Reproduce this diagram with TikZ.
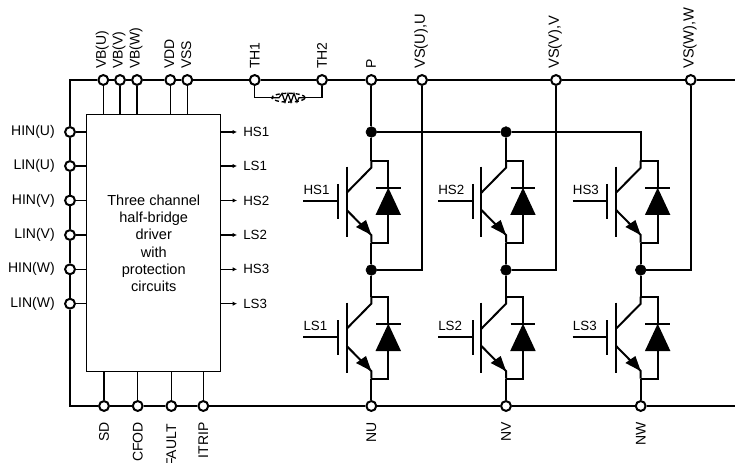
\documentclass[tikz,border=0pt]{standalone}
\usepackage{fontspec}
\setmainfont{Liberation Sans}
\usetikzlibrary{arrows.meta, shapes.geometric}

\tikzset{
  pin/.style={circle,draw=black,fill=white,line width=1.5pt,inner sep=0pt,minimum size=7.4pt},
  joint/.style={circle,draw=black,fill=black,inner sep=0pt,minimum size=8pt},
  pinlabel/.style={rotate=90,inner sep=0pt},
  widelabel/.style={rotate=90,inner sep=0pt,font=\fontsize{11}{13}\selectfont},
  inlabel/.style={anchor=east,inner sep=0pt},
  outlabel/.style={anchor=west,inner sep=4.5pt,font=\fontsize{10}{12}\selectfont},
  bus/.style={line width=1.7pt},
  wire/.style={line width=1.5pt},
  signal/.style={line width=0.8pt},
}

% one IGBT with its diode, (0,0) is where the collector wire meets the diode wire
\newcommand{\igbt}[4]{
  \begin{scope}[shift={(#2,#3)}]
    \coordinate (#1c) at (0,0);
    \coordinate (#1e) at (0,82);
    \draw[wire,line join=miter] (#1c) -- (0,7) -- (-24.6,32);
    \draw[wire] (-24.6,49.3) -- (0,74.3) -- (#1e);
    \draw[wire] (-24.6,6) -- (-24.6,76);
    \draw[wire] (-33.3,23.3) -- (-33.3,58.3);
    \draw[wire] (-68,40.6) -- (-33.3,40.6);
    \draw[wire] (#1c) -- (17,0) -- (17,27);
    \draw[wire] (#1e) -- (17,82) -- (17,54.3);
    \draw[wire] (4.7,27) -- (29.4,27);
    \fill[black] (17,27) -- (4.2,54.3) -- (29.7,54.3) -- cycle;
    \fill[black] (0,74.3) -- (-15.3,66.3) -- (-5.3,59.3) -- cycle;
    \node[anchor=west,inner sep=0pt,font=\fontsize{10}{12}\selectfont] (#1lbl) at (-68,29) {#4};
  \end{scope}
}

\begin{document}
\begin{tikzpicture}[x=0.75pt,y=-0.75pt,font=\fontsize{10.5}{13}\selectfont]
\useasboundingbox (0,0) rectangle (735,463);

\coordinate (tl) at (70,80);
\coordinate (bl) at (70,406);
\coordinate (tr) at (735,80);
\coordinate (br) at (735,406);

\node[draw=black,line width=0.9pt,inner sep=0pt,minimum width=100.5pt,minimum height=192.8pt,align=center,font=\fontsize{10.9}{13}\selectfont] (driver) at (153.75,243.25)
  {Three channel\\half-bridge\\driver\\with\\protection\\circuits};

% top pins
\node[pin] (vbu) at (103.3,80) {};
\node[pin] (vbv) at (120,80) {};
\node[pin] (vbw) at (137,80) {};
\node[pin] (vdd) at (170.3,80) {};
\node[pin] (vss) at (187.3,80) {};
\node[pin] (th1) at (254.7,80) {};
\node[pin] (th2) at (322,80) {};
\node[pin] (p)   at (371.3,80) {};
\node[pin] (vsu) at (422,80) {};
\node[pin] (vsv) at (556,80) {};
\node[pin] (vsw) at (690.7,80) {};

% left pins
\node[pin] (hinu) at (70,132) {};
\node[pin] (linu) at (70,166) {};
\node[pin] (hinv) at (70,200.5) {};
\node[pin] (linv) at (70,235) {};
\node[pin] (hinw) at (70,269.3) {};
\node[pin] (linw) at (70,303.7) {};

% bottom pins
\node[pin] (sd)    at (104,406) {};
\node[pin] (cfod)  at (137.7,406) {};
\node[pin] (fault) at (171.3,406) {};
\node[pin] (itrip) at (203.3,406) {};
\node[pin] (nu)    at (371.3,406) {};
\node[pin] (nv)    at (506,406) {};
\node[pin] (nw)    at (640.7,406) {};

\draw[bus] (tr) -- (vsw) -- (vsv) -- (vsu) -- (p) -- (th2) -- (th1) -- (vss) -- (vdd) -- (vbw) -- (vbv) -- (vbu) -- (tl)
  -- (hinu) -- (linu) -- (hinv) -- (linv) -- (hinw) -- (linw) -- (bl)
  -- (sd) -- (cfod) -- (fault) -- (itrip) -- (nu) -- (nv) -- (nw) -- (br);

% pin labels
\node[pinlabel,anchor=west] (lvbu) at (102.3,69) {VB(U)};
\node[pinlabel,anchor=west] (lvbv) at (119,69) {VB(V)};
\node[pinlabel,anchor=west] (lvbw) at (136,69) {VB(W)};
\node[pinlabel,anchor=west] (lvdd) at (169.3,69) {VDD};
\node[pinlabel,anchor=west] (lvss) at (186.3,69) {VSS};
\node[pinlabel,anchor=west] (lth1) at (254.7,69) {TH1};
\node[pinlabel,anchor=west] (lth2) at (322,69) {TH2};
\node[pinlabel,anchor=west] (lp)   at (371,69) {P};
\node[widelabel,anchor=west] (lvsu) at (421,69) {VS(U),U};
\node[widelabel,anchor=west] (lvsv) at (555,69) {VS(V),V};
\node[widelabel,anchor=west] (lvsw) at (689.7,69) {VS(W),W};

\node[inlabel] (lhinu) at (55,132) {HIN(U)};
\node[inlabel] (llinu) at (55,166) {LIN(U)};
\node[inlabel] (lhinv) at (55,200.5) {HIN(V)};
\node[inlabel] (llinv) at (55,235) {LIN(V)};
\node[inlabel] (lhinw) at (55,269.3) {HIN(W)};
\node[inlabel] (llinw) at (55,303.7) {LIN(W)};

\node[pinlabel,anchor=east] (lsd)    at (104,422) {SD};
\node[pinlabel,anchor=east] (lcfod)  at (137.7,422) {CFOD};
\node[pinlabel,anchor=east] (lfault) at (171.3,424) {FAULT};
\node[pinlabel,anchor=east] (litrip) at (203.3,422) {ITRIP};
\node[pinlabel,anchor=east] (lnu)    at (371.3,422) {NU};
\node[pinlabel,anchor=east] (lnv)    at (506,422) {NV};
\node[pinlabel,anchor=east] (lnw)    at (640.7,422) {NW};

% driver outputs
\node[outlabel] (ohs1) at (237,132) {HS1};
\node[outlabel] (ols1) at (237,166) {LS1};
\node[outlabel] (ohs2) at (237,200.5) {HS2};
\node[outlabel] (ols2) at (237,235) {LS2};
\node[outlabel] (ohs3) at (237,269.3) {HS3};
\node[outlabel] (ols3) at (237,303.7) {LS3};
\draw[signal,-{Latex[length=3.2pt,width=3.2pt]}] (driver.east |- ohs1) -- (ohs1);
\draw[signal,-{Latex[length=3.2pt,width=3.2pt]}] (driver.east |- ols1) -- (ols1);
\draw[signal,-{Latex[length=3.2pt,width=3.2pt]}] (driver.east |- ohs2) -- (ohs2);
\draw[signal,-{Latex[length=3.2pt,width=3.2pt]}] (driver.east |- ols2) -- (ols2);
\draw[signal,-{Latex[length=3.2pt,width=3.2pt]}] (driver.east |- ohs3) -- (ohs3);
\draw[signal,-{Latex[length=3.2pt,width=3.2pt]}] (driver.east |- ols3) -- (ols3);

% driver to pins
\draw[signal] (vbu) -- (vbu |- driver.north);
\draw[signal] (vbv) -- (vbv |- driver.north);
\draw[signal] (vbw) -- (vbw |- driver.north);
\draw[signal] (vdd) -- (vdd |- driver.north);
\draw[signal] (vss) -- (vss |- driver.north);
\draw[signal] (hinu) -- (hinu -| driver.west);
\draw[signal] (linu) -- (linu -| driver.west);
\draw[signal] (hinv) -- (hinv -| driver.west);
\draw[signal] (linv) -- (linv -| driver.west);
\draw[signal] (hinw) -- (hinw -| driver.west);
\draw[signal] (linw) -- (linw -| driver.west);
\draw[signal] (sd) -- (sd |- driver.south);
\draw[signal] (cfod) -- (cfod |- driver.south);
\draw[signal] (fault) -- (fault |- driver.south);
\draw[signal] (itrip) -- (itrip |- driver.south);

% thermistor
\node[ellipse,draw=black,densely dashed,line width=1pt,inner sep=0pt,minimum width=25pt,minimum height=6.6pt] (rt) at (288.5,97.7) {};
\draw[signal] (th1) |- (rt.west);
\draw[signal] (th2) |- (rt.east);
\draw[line width=0.9pt] (rt.west) -- (279,97.7) -- (282,93.5) -- (285,102) -- (288,93.5) -- (291,102) -- (294,93.5) -- (297,102) -- (299,97.7) -- (rt.east);

% IGBTs
\igbt{ua}{371.3}{160.7}{HS1}
\igbt{ub}{371.3}{296.7}{LS1}
\igbt{va}{506}{160.7}{HS2}
\igbt{vb}{506}{296.7}{LS2}
\igbt{wa}{640.7}{160.7}{HS3}
\igbt{wb}{640.7}{296.7}{LS3}

\node[joint] (jtu) at (371.3,132) {};
\node[joint] (jtv) at (506,132) {};
\coordinate (jtw) at (640.7,132);
\node[joint] (jmu) at (371.3,270) {};
\node[joint] (jmv) at (506,270) {};
\node[joint] (jmw) at (640.7,270) {};

\draw[wire] (p) -- (jtu) -- (uac);
\draw[wire] (jtu) -- (jtv) -- (jtw) -- (wac);
\draw[wire] (jtv) -- (vac);
\draw[wire] (uae) -- (jmu) -- (ubc);
\draw[wire] (vae) -- (jmv) -- (vbc);
\draw[wire] (wae) -- (jmw) -- (wbc);
\draw[wire] (jmu) -| (vsu);
\draw[wire] (jmv) -| (vsv);
\draw[wire] (jmw) -| (vsw);
\draw[wire] (ube) -- (nu);
\draw[wire] (vbe) -- (nv);
\draw[wire] (wbe) -- (nw);

\end{tikzpicture}
\end{document}
